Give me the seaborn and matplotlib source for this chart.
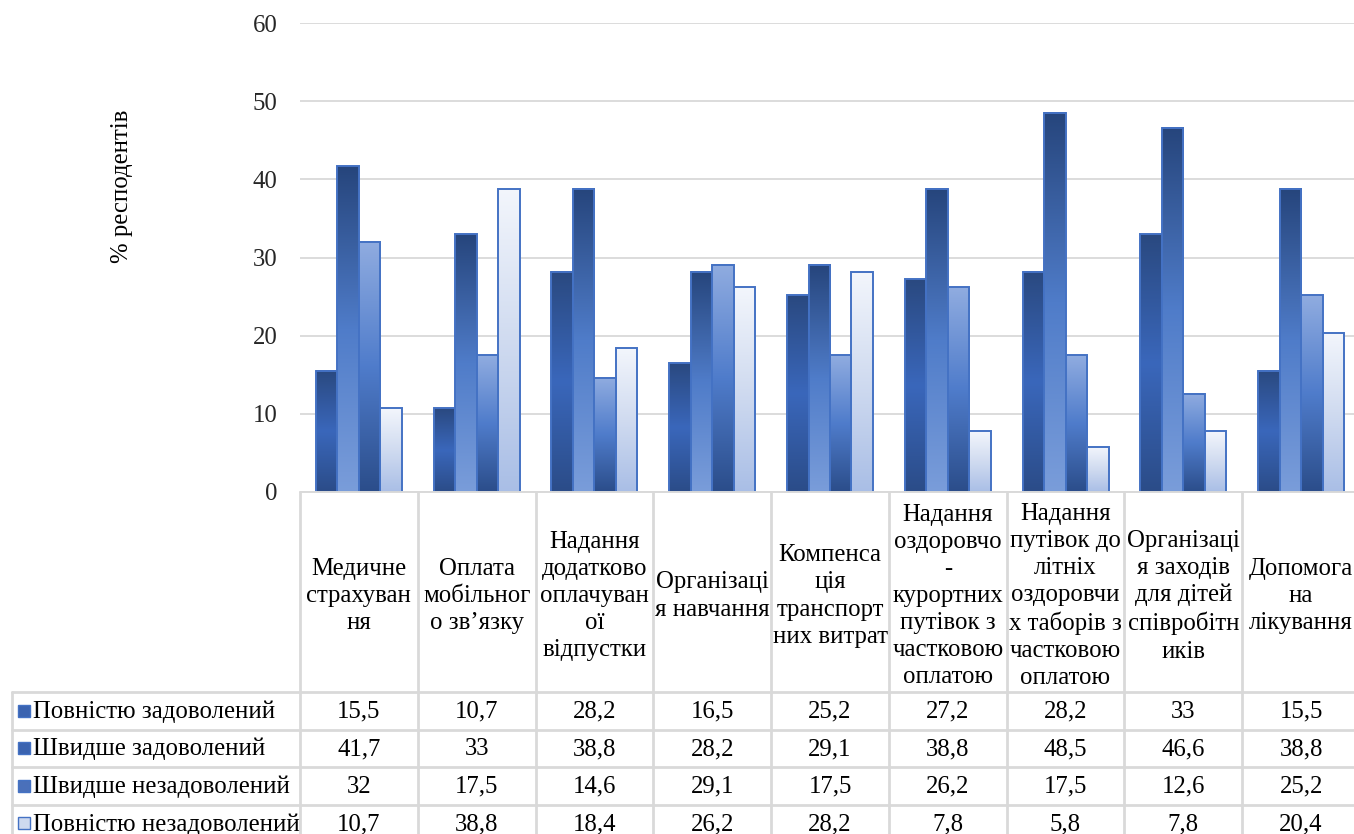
import numpy as np
import pandas as pd
import matplotlib
matplotlib.use("Agg")
import matplotlib.pyplot as plt
from matplotlib.colors import LinearSegmentedColormap
from matplotlib.transforms import blended_transform_factory
import seaborn as sns

categories = [
    "Медичне\nстрахуван\nня",
    "Оплата\nмобільног\nо зв’язку",
    "Надання\nдодатково\nоплачуван\nої\nвідпустки",
    "Організаці\nя навчання",
    "Компенса\nція\nтранспорт\nних витрат",
    "Надання\nоздоровчо\n-\nкурортних\nпутівок з\nчастковою\nоплатою",
    "Надання\nпутівок до\nлітніх\nоздоровчи\nх таборів з\nчастковою\nоплатою",
    "Організаці\nя заходів\nдля дітей\nспівробітн\nиків",
    "Допомога\nна\nлікування",
]
series_names = [
    "Повністю задоволений",
    "Швидше задоволений",
    "Швидше незадоволений",
    "Повністю незадоволений",
]
fully_satisfied = [15.5, 10.7, 28.2, 16.5, 25.2, 27.2, 28.2, 33, 15.5]
rather_satisfied = [41.7, 33, 38.8, 28.2, 29.1, 38.8, 48.5, 46.6, 38.8]
rather_unsatisfied = [32, 17.5, 14.6, 29.1, 17.5, 26.2, 17.5, 12.6, 25.2]
fully_unsatisfied = [10.7, 38.8, 18.4, 26.2, 28.2, 7.8, 5.8, 7.8, 20.4]
series_values = [fully_satisfied, rather_satisfied, rather_unsatisfied, fully_unsatisfied]
y_ticks = [0, 10, 20, 30, 40, 50, 60]
y_label = "% респодентів"

rows = []
for name, vals in zip(series_names, series_values):
    for cat, v in zip(categories, vals):
        rows.append({"category": cat, "series": name, "value": v})
df = pd.DataFrame(rows)

# vertical gradients (top -> bottom) for each series
gradients = [
    ["#2a4980", "#3a67bb", "#2b4c88"],
    ["#26457c", "#4f7cc9", "#7a9dda"],
    ["#90ace0", "#4f7ccb", "#2b4d8a"],
    ["#f3f6fc", "#d0dbf0", "#a9bee6"],
]
key_colors = ["#3a63b0", "#3a63b0", "#4a70ba", "#cdd9ef"]
edge = "#4472C4"
grid_c = "#d9d9d9"

sns.set_theme(style="white")
plt.rcParams["font.family"] = "serif"
plt.rcParams["font.serif"] = ["Liberation Serif", "DejaVu Serif"]

FS = 17.8
W, H = 1354, 834
fig = plt.figure(figsize=(W / 100, H / 100), dpi=100)

x0_px, x1_px = 300, 1360
y0_px, y1_px = 492, 23
ax = fig.add_axes([x0_px / W, (H - y0_px) / H, (x1_px - x0_px) / W, (y0_px - y1_px) / H])

palette = {n: g[1] for n, g in zip(series_names, gradients)}
sns.barplot(data=df, x="category", y="value", hue="series", hue_order=series_names,
            order=categories, palette=palette, width=0.73, legend=False,
            edgecolor=edge, linewidth=1.4, saturation=1, ax=ax, zorder=3)

ax.set_yticks(y_ticks)
ax.set_yticklabels([str(t) for t in y_ticks], fontsize=FS, color="#262626")
ax.tick_params(axis="y", length=0, pad=16)
ax.set_xticks([])
ax.set_xlabel("")
ax.set_ylabel("")
for s in ax.spines.values():
    s.set_visible(False)
ax.yaxis.grid(True, color=grid_c, linewidth=1.3, zorder=0)
ax.set_axisbelow(True)

# gradient fill inside every bar
n_cat = len(categories)
bars = list(ax.patches)
for i, p in enumerate(bars[: n_cat * len(series_names)]):
    si = i // n_cat
    cmap = LinearSegmentedColormap.from_list(f"g{si}", gradients[si])
    x, y = p.get_x(), p.get_y()
    w, h = p.get_width(), p.get_height()
    grad = np.linspace(0, 1, 256).reshape(-1, 1)
    ax.imshow(grad, cmap=cmap, aspect="auto", extent=(x, x + w, y, y + h),
              origin="upper", zorder=3.5, interpolation="bilinear")
    p.set_facecolor("none")
    p.set_zorder(4)
ax.set_xlim(-0.5, n_cat - 0.5)
ax.set_ylim(0, 60)

fig.text(122 / W, 1 - 186 / H, y_label, rotation=90, ha="center", va="center",
         fontsize=FS, color="black")

# data table under the plot, drawn in pixel rows
ov = fig.add_axes([0, 0, 1, 1], facecolor="none")
ov.set_xlim(0, W)
ov.set_ylim(H, 0)
ov.axis("off")
tr = blended_transform_factory(ax.transData, ov.transData)

row_lines = [692, 729.5, 767, 804.5, 842]
ov.plot([x0_px, W], [y0_px, y0_px], color=grid_c, lw=1.4, zorder=1)
for yl in row_lines[:-1]:
    ov.plot([12, W], [yl, yl], color=grid_c, lw=2.0)
ov.plot([12, 12], [row_lines[0], H], color=grid_c, lw=2.0)
for k in range(n_cat + 1):
    ov.plot([k - 0.5, k - 0.5], [y0_px, H], color=grid_c, lw=2.0, transform=tr)

for k, cat in enumerate(categories):
    ov.text(k, 596, cat, ha="center", va="center", fontsize=FS,
            linespacing=1.3, transform=tr, color="black")

for r, (name, vals) in enumerate(zip(series_names, series_values)):
    yc = (row_lines[r] + row_lines[r + 1]) / 2 + 1
    ov.add_patch(plt.Rectangle((18, yc - 7), 12, 12, facecolor=key_colors[r],
                               edgecolor=edge, lw=1.0))
    ov.text(33, yc, name, ha="left", va="center", fontsize=FS, color="black")
    for k, v in enumerate(vals):
        ov.text(k, yc, f"{v:g}".replace(".", ","), ha="center", va="center",
                fontsize=FS, color="black", transform=tr)

fig.savefig("out.png", dpi=100)
